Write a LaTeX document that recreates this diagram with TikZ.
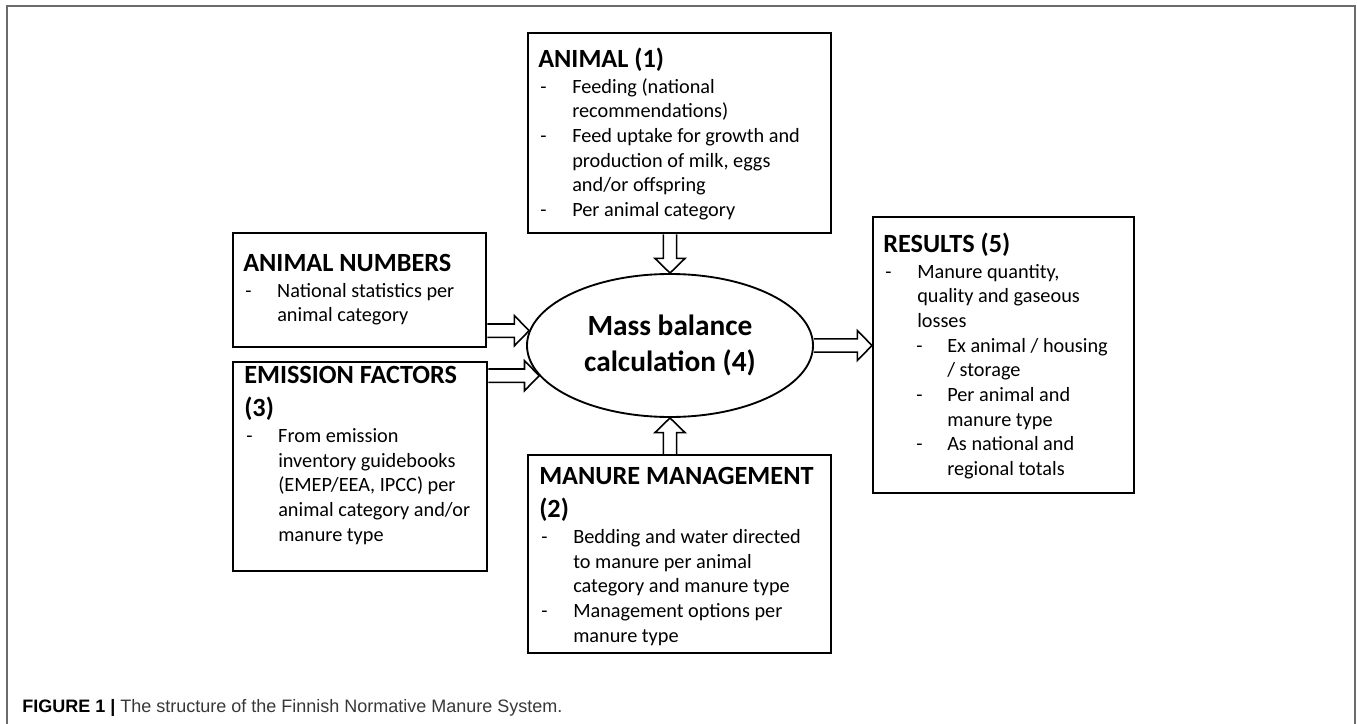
\documentclass[tikz,border=0pt]{standalone}
\usepackage{fontspec}
\setmainfont{Carlito}
\newfontfamily\figcapfont{Liberation Sans}
\usetikzlibrary{shapes.geometric, calc}
\setlength{\parindent}{0pt}
\setlength{\parskip}{0pt}

\definecolor{FrameColor}{rgb}{0.42,0.42,0.42}
\definecolor{CaptionColor}{rgb}{0.22,0.22,0.22}

\newcommand{\boxtitle}[1]{{\fontsize{19.7pt}{25pt}\selectfont\bfseries\rule{0pt}{16pt}#1\par}\vspace{1pt}}
\newcommand{\dashitem}{\makebox[25.5pt][l]{\hspace{1.5pt}-}}
\newcommand{\dashgap}{\hspace*{25.5pt}}
\newcommand{\subdash}{\hspace*{24pt}\makebox[24pt][l]{\hspace{0.75pt}-}}
\newcommand{\subgap}{\hspace*{48pt}}

\tikzstyle{info-box}=[rectangle,
                      draw=black,
                      line width=1.7pt,
                      anchor=north west,
                      inner sep=0pt
                     ]
\tikzstyle{box-text}=[anchor=north west,
                      inner sep=0pt,
                      align=flush left,
                      font={\fontsize{15.2pt}{18.5pt}\selectfont}
                     ]
\tikzstyle{mass-node}=[ellipse,
                       draw=black,
                       line width=1.4pt,
                       inner sep=0pt,
                       minimum width=214.5pt,
                       minimum height=107.25pt,
                       align=center,
                       font={\fontsize{22pt}{27pt}\selectfont\bfseries}
                      ]
\tikzstyle{hollow-arrow}=[draw=black, line width=1.2pt, line join=miter,
  to path={
    ($(\tikztostart)!5pt!90:(\tikztotarget)$)
    -- ($(\tikztotarget)!11pt!(\tikztostart)!5pt!90:(\tikztotarget)$)
    -- ($(\tikztotarget)!11pt!(\tikztostart)!11.25pt!90:(\tikztotarget)$)
    -- (\tikztotarget)
    -- ($(\tikztotarget)!11pt!(\tikztostart)!11.25pt!-90:(\tikztotarget)$)
    -- ($(\tikztotarget)!11pt!(\tikztostart)!5pt!-90:(\tikztotarget)$)
    -- ($(\tikztostart)!5pt!-90:(\tikztotarget)$)
  }]

\begin{document}
\begin{tikzpicture}[x=0.75pt, y=-0.75pt]

\useasboundingbox (0,0) rectangle (1357,724);
\draw[FrameColor, line width=1.3pt] (7,6) rectangle (1355,740);

\node at (670, 345.5) (mass) [mass-node] {Mass balance\\calculation (4)};

\node at (527, 32) (animal) [info-box, minimum width=227.25pt, minimum height=150pt] {};
\node at (538, 45.7) (animal_t) [box-text, text width=214pt] {\boxtitle{ANIMAL (1)}
  \dashitem Feeding (national\\
  \dashgap recommendations)\\
  \dashitem Feed uptake for growth and\\
  \dashgap production of milk, eggs\\
  \dashgap and/or offspring\\
  \dashitem Per animal category};

\node at (232, 232) (numbers) [info-box, minimum width=189.75pt, minimum height=85.5pt] {};
\node at (243, 249.7) (numbers_t) [box-text, text width=178pt] {\boxtitle{ANIMAL NUMBERS}
  \dashitem National statistics per\\
  \dashgap animal category};

\node at (232, 361) (emission) [info-box, minimum width=190.5pt, minimum height=156.75pt] {};
\node at (244, 361.7) (emission_t) [box-text, text width=178pt] {\boxtitle{EMISSION FACTORS\\(3)}
  \dashitem From emission\\
  \dashgap inventory guidebooks\\
  \dashgap (EMEP/EEA, IPCC) per\\
  \dashgap animal category and/or\\
  \dashgap manure type};

\node at (527, 454) (manure) [info-box, minimum width=227.25pt, minimum height=148.5pt] {};
\node at (539, 462.7) (manure_t) [box-text, text width=214pt] {\boxtitle{MANURE MANAGEMENT\\(2)}
  \dashitem Bedding and water directed\\
  \dashgap to manure per animal\\
  \dashgap category and manure type\\
  \dashitem Management options per\\
  \dashgap manure type};

\node at (872, 216) (results) [info-box, minimum width=195.75pt, minimum height=207pt] {};
\node at (883, 230.7) (results_t) [box-text, text width=184pt] {\boxtitle{RESULTS (5)}
  \dashitem Manure quantity,\\
  \dashgap quality and gaseous\\
  \dashgap losses\\
  \subdash Ex animal / housing\\
  \subgap / storage\\
  \subdash Per animal and\\
  \subgap manure type\\
  \subdash As national and\\
  \subgap regional totals};

\draw[hollow-arrow] (mass.north |- animal.south) to (mass.north);
\draw[hollow-arrow] (mass.south |- manure.north) to (mass.south);
\draw[hollow-arrow] (numbers.east |- mass.174) to (mass.174);
\draw[hollow-arrow] (emission.east |- mass.193) to (mass.193);
\draw[hollow-arrow] (mass.east) to (results.west |- mass.east);

\node at (22, 712) (caption) [anchor=base west, inner sep=0pt, text=CaptionColor,
    font={\figcapfont\fontsize{13.5pt}{16pt}\selectfont}]
    {\textcolor{black}{\textbf{FIGURE 1 |}} The structure of the Finnish Normative Manure System.};

\end{tikzpicture}
\end{document}
